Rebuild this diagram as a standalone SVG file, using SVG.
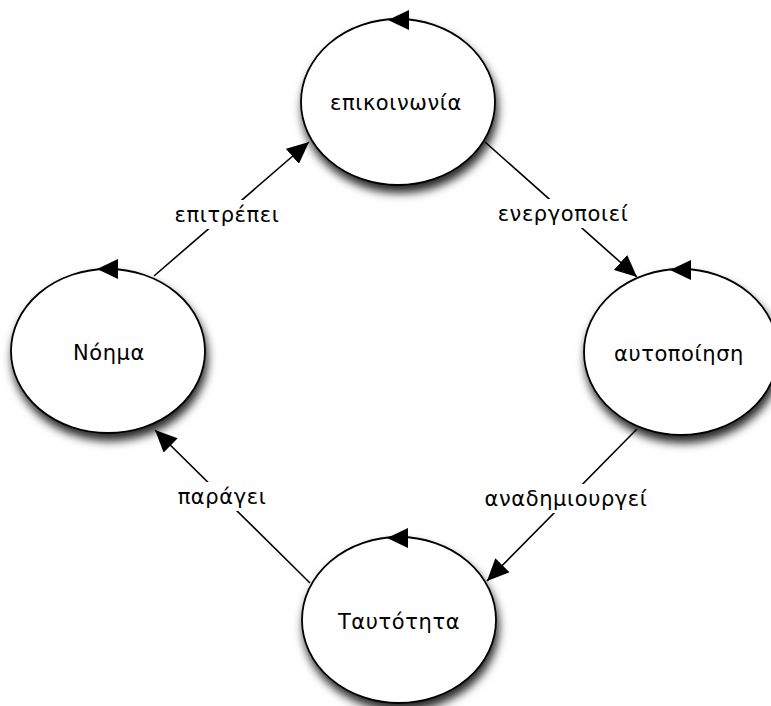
<svg xmlns="http://www.w3.org/2000/svg" xmlns:xlink="http://www.w3.org/1999/xlink" width="771" height="706" viewBox="0 0 771 706">
<style>
.node ellipse{fill:#ffffff;stroke:#000000;stroke-width:1.8;filter:url(#shadow)}
.node text,.label text{font-family:"DejaVu Sans","Noto Sans",sans-serif;font-size:21px;letter-spacing:0.6px;fill:#000000;text-anchor:middle}
.edge{stroke:#000000;stroke-width:1.6;fill:none;marker-end:url(#arrow)}
.label rect{fill:#ffffff}
.loop{fill:#000000}
</style>
<defs>
<filter id="shadow" x="-20%" y="-20%" width="140%" height="150%">
<feDropShadow dx="2" dy="7" stdDeviation="5" flood-color="#000000" flood-opacity="0.85"/>
</filter>
<marker id="arrow" markerUnits="userSpaceOnUse" markerWidth="22" markerHeight="20" viewBox="0 0 22 20" refX="22" refY="10" orient="auto">
<path d="M0,0 L22,10 L0,20 Z" fill="#000000"/>
</marker>
<path id="loophead" class="loop" d="M0,0 L21,-10 L21,10 Z"/>
</defs>
<g id="connectors">
<line class="edge" x1="154" y1="276" x2="309" y2="142"/>
<line class="edge" x1="485" y1="142" x2="637" y2="277"/>
<line class="edge" x1="637" y1="429" x2="487" y2="581"/>
<line class="edge" x1="310" y1="583" x2="155" y2="430"/>
<g class="label"><rect x="172" y="200" width="110" height="29"/><text x="227" y="222">επιτρέπει</text></g>
<g class="label"><rect x="493" y="199" width="140" height="29"/><text x="563" y="221">ενεργοποιεί</text></g>
<g class="label"><rect x="483" y="484" width="166" height="29"/><text x="566" y="506">αναδημιουργεί</text></g>
<g class="label"><rect x="173" y="482" width="98" height="29"/><text x="222" y="504">παράγει</text></g>
</g>
<g id="node-epikoinonia" class="node">
<ellipse cx="398" cy="102" rx="97" ry="83"/>
<use xlink:href="#loophead" x="388" y="20"/>
<text x="396" y="110">επικοινωνία</text>
</g>
<g id="node-noima" class="node">
<ellipse cx="108" cy="351" rx="97" ry="82"/>
<use xlink:href="#loophead" x="97" y="269"/>
<text x="109" y="360">Νόημα</text>
</g>
<g id="node-aftopoiisi" class="node">
<ellipse cx="681" cy="352" rx="97" ry="83"/>
<use xlink:href="#loophead" x="670" y="270"/>
<text x="679" y="361">αυτοποίηση</text>
</g>
<g id="node-taftotita" class="node">
<ellipse cx="399" cy="620" rx="97" ry="83"/>
<use xlink:href="#loophead" x="387" y="538"/>
<text x="399" y="629">Ταυτότητα</text>
</g>
</svg>
